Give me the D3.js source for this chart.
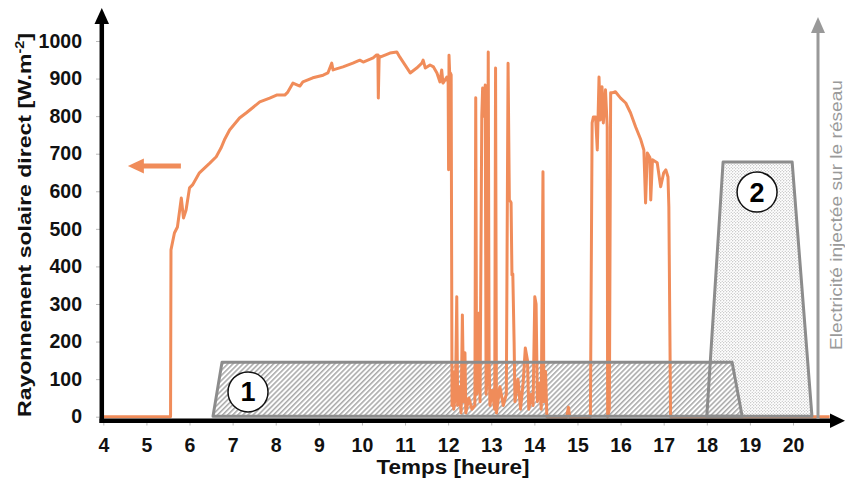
<!DOCTYPE html>
<html><head><meta charset="utf-8">
<script src="https://cdn.jsdelivr.net/npm/d3@7"></script>
<style>
html,body{margin:0;padding:0;background:#fff;}
svg{display:block;}
.tick text{font-family:"Liberation Sans Narrow","Arial Narrow","Liberation Sans",Arial,sans-serif;font-weight:bold;font-size:19.5px;fill:#111;}
</style></head>
<body>
<svg id="c" width="845" height="481"></svg>
<script>
// ---- data ----
const hours = [4, 5.56, 5.57, 5.65, 5.72, 5.81, 5.86, 5.92, 6.0, 6.07, 6.23, 6.47, 6.62, 6.73, 6.81, 6.93, 7.16, 7.32, 7.63, 7.86, 8.02, 8.21, 8.28, 8.40, 8.56, 8.63, 8.86, 9.1, 9.21, 9.30, 9.33, 9.56, 9.79, 9.95, 10.03, 10.26, 10.34, 10.37, 10.38, 10.40, 10.42, 10.65, 10.81, 10.88, 11.12, 11.27, 11.39, 11.42, 11.47, 11.58, 11.66, 11.74, 11.81, 11.85, 11.88, 11.97,
  12.00, 12.01, 12.02, 12.04, 12.05, 12.07, 12.09, 12.11, 12.13, 12.17, 12.20, 12.22, 12.26, 12.30, 12.33, 12.36, 12.39, 12.41, 12.48, 12.55, 12.62, 12.64, 12.66, 12.70, 12.72, 12.74, 12.78, 12.80, 12.84, 12.86, 12.88, 12.91, 12.93, 12.95, 12.97, 13.02, 13.08, 13.10, 13.12, 13.20, 13.28, 13.35, 13.39, 13.42, 13.46, 13.48, 13.50, 13.53, 13.55, 13.62, 13.68, 13.74, 13.79, 13.84, 13.87, 13.93, 13.97, 14.01, 14.04, 14.07, 14.12, 14.16, 14.20, 14.22, 14.26, 14.29,
  14.75, 14.79, 14.82, 15.30, 15.34, 15.37, 15.42, 15.46, 15.50, 15.53, 15.57, 15.60, 15.65, 15.69, 15.70, 15.74, 15.77, 15.81, 15.88, 16.0, 16.12, 16.23, 16.35, 16.47, 16.54, 16.58, 16.62, 16.68, 16.70, 16.74, 16.85, 16.93, 17.00, 17.05, 17.10, 17.12, 17.16, 20.85];
const radiation = [0, 0, 444, 489, 505, 582, 529, 550, 609, 617, 649, 675, 692, 715, 737, 763, 795, 809, 838, 848, 856, 856, 864, 888, 880, 891, 902, 909, 915, 941, 923, 931, 941, 949, 944, 955, 963, 963, 848, 960, 957, 968, 971, 957, 915, 928, 941, 949, 928, 936, 931, 915, 891, 923, 888, 904,
  890, 657, 962, 900, 915, 910, 30, 120, 20, 60, 319, 30, 80, 10, 271, 40, 170, 10, 50, 20, 30, 849, 60, 90, 276, 40, 800, 875, 800, 883, 60, 120, 971, 150, 30, 70, 20, 928, 10, 80, 30, 60, 941, 577, 570, 377, 380, 200, 40, 100, 20, 90, 183, 150, 20, 60, 30, 319, 300, 40, 90, 20, 652, 40, 120, 0,
  0, 25, 0, 0, 782, 798, 798, 710, 904, 790, 878, 782, 870, 771, 0, 20, 862, 862, 865, 848, 835, 809, 771, 737, 710, 569, 702, 690, 577, 684, 676, 612, 649, 657, 638, 558, 0, 0];

const xTicks = [4,5,6,7,8,9,10,11,12,13,14,15,16,17,18,19,20];
const yTicks = [0,100,200,300,400,500,600,700,800,900,1000];

// schematic blocks (1: hatched, 2: dotted)
const block1Hours = [6.545, 6.754, 18.587, 18.82];
const block1Vals  = [1, 145, 145, 1];
const block2Hours = [18.0, 18.378, 19.98, 20.44];
const block2Vals  = [1, 678, 678, 1];
const blockLabels = ["1", "2"];
const blockLabelHours = [7.357, 19.166];
const blockLabelVals  = [66, 598];
const arrowHours = [5.8, 4.57];
const arrowVal = 667;

const xTitle = "Temps [heure]";
const yTitle = "Rayonnement solaire direct [W.m";
const yTitleSup = "-2";
const rightTitle = "Electricité injectée sur le réseau";

// ---- drawing ----
const orange = "#f08c5a";
const svg = d3.select("#c");
const x = d3.scaleLinear().domain([4, 20]).range([103.3, 793]);
const y = d3.scaleLinear().domain([0, 1000]).range([416.7, 41]);

const defs = svg.append("defs");
const hatch = defs.append("pattern").attr("id","hatch").attr("patternUnits","userSpaceOnUse")
  .attr("width",3.6).attr("height",10).attr("patternTransform","rotate(45)");
hatch.append("rect").attr("width",3.6).attr("height",10).attr("fill","#fff");
hatch.append("line").attr("x1",0.8).attr("x2",0.8).attr("y1",0).attr("y2",10)
  .attr("stroke","#959595").attr("stroke-width",1.25);
const dots = defs.append("pattern").attr("id","dots").attr("patternUnits","userSpaceOnUse")
  .attr("width",3).attr("height",3);
dots.append("rect").attr("width",3).attr("height",3).attr("fill","#fff");
dots.append("circle").attr("cx",0.75).attr("cy",0.75).attr("r",0.6).attr("fill","#9a9a9a");
dots.append("circle").attr("cx",2.25).attr("cy",2.25).attr("r",0.6).attr("fill","#b0b0b0");

const poly = (hs, vs) => hs.map((h,i)=>[x(h), y(vs[i])]);
const shapeLine = d3.line().curve(d3.curveLinearClosed);

// fills
svg.append("path").attr("d", shapeLine(poly(block2Hours, block2Vals))).attr("fill","url(#dots)");
svg.append("path").attr("d", shapeLine(poly(block1Hours, block1Vals))).attr("fill","url(#hatch)");

// radiation line
const line = d3.line().x((d,i)=>x(hours[i])).y(d=>y(d));
svg.append("path").attr("d", line(radiation)).attr("fill","none")
  .attr("stroke",orange).attr("stroke-width",3).attr("stroke-linejoin","round");

// outlines
[[block2Hours,block2Vals],[block1Hours,block1Vals]].forEach(([h,v])=>{
  svg.append("path").attr("d", shapeLine(poly(h,v))).attr("fill","none")
    .attr("stroke","#8c8c8c").attr("stroke-width",3).attr("stroke-linejoin","round");
});

// axes
const yAxis = d3.axisLeft(y).tickValues(yTicks).tickFormat(d3.format("d")).tickSize(4).tickPadding(14);
const gy = svg.append("g").attr("transform","translate(100,0)").call(yAxis);
gy.select(".domain").remove();
gy.selectAll(".tick line").attr("stroke","#bbb");

const xAxis = d3.axisBottom(x).tickValues(xTicks).tickFormat(d3.format("d")).tickSize(5).tickPadding(13);
const gx = svg.append("g").attr("transform","translate(0,420.5)").call(xAxis);
gx.select(".domain").remove();
gx.selectAll(".tick line").attr("stroke","#bbb");

// black axis lines with arrows
svg.append("line").attr("x1",101.8).attr("x2",101.8).attr("y1",423).attr("y2",20)
  .attr("stroke","#000").attr("stroke-width",4.5);
svg.append("path").attr("d","M101.8,8 L94.5,24 L109,24 Z").attr("fill","#000");
svg.append("line").attr("x1",99.5).attr("x2",832).attr("y1",420.8).attr("y2",420.8)
  .attr("stroke","#000").attr("stroke-width",4.5);
svg.append("path").attr("d","M845,420.8 L830,413.5 L830,428 Z").attr("fill","#000");

// right gray axis
svg.append("line").attr("x1",818).attr("x2",818).attr("y1",419).attr("y2",28)
  .attr("stroke","#999").attr("stroke-width",3);
svg.append("path").attr("d","M818,17 L811,33 L825,33 Z").attr("fill","#999");

// orange arrow
svg.append("line").attr("x1",x(arrowHours[0])).attr("x2",x(arrowHours[1])+13).attr("y1",y(arrowVal)).attr("y2",y(arrowVal))
  .attr("stroke",orange).attr("stroke-width",5);
svg.append("path").attr("d",`M${x(arrowHours[1])},${y(arrowVal)} L${x(arrowHours[1])+16},${y(arrowVal)-7.5} L${x(arrowHours[1])+16},${y(arrowVal)+7.5} Z`).attr("fill",orange);

// numbered circles
blockLabels.forEach((t,i)=>{
  const cx = x(blockLabelHours[i]), cy = y(blockLabelVals[i]);
  svg.append("circle").attr("cx",cx).attr("cy",cy).attr("r",20).attr("fill","#fff")
    .attr("stroke","#111").attr("stroke-width",1.5);
  svg.append("text").attr("x",cx).attr("y",cy+9.5).attr("text-anchor","middle")
    .attr("font-family","Liberation Sans, Arial, sans-serif").attr("font-weight","bold")
    .attr("font-size",27).attr("fill","#000").text(t);
});

// titles
svg.append("text").attr("x",453).attr("y",474).attr("text-anchor","middle")
  .attr("font-family","Liberation Sans, Arial, sans-serif").attr("font-weight","bold")
  .attr("font-size",19.5).attr("fill","#111")
  .attr("textLength",153).attr("lengthAdjust","spacingAndGlyphs").text(xTitle);

const yt = svg.append("text").attr("transform","translate(31,225) rotate(-90)").attr("text-anchor","middle")
  .attr("font-family","Liberation Sans, Arial, sans-serif").attr("font-weight","bold")
  .attr("font-size",19).attr("fill","#111")
  .attr("textLength",384).attr("lengthAdjust","spacingAndGlyphs");
yt.append("tspan").text(yTitle);
yt.append("tspan").attr("dy",-7).attr("font-size",12).text(yTitleSup);
yt.append("tspan").attr("dy",7).text("]");

svg.append("text").attr("transform","translate(842,215) rotate(-90)").attr("text-anchor","middle")
  .attr("font-family","Liberation Sans, Arial, sans-serif")
  .attr("font-size",16.5).attr("fill","#9a9a9a")
  .attr("textLength",270).attr("lengthAdjust","spacingAndGlyphs").text(rightTitle);
</script>
</body></html>
